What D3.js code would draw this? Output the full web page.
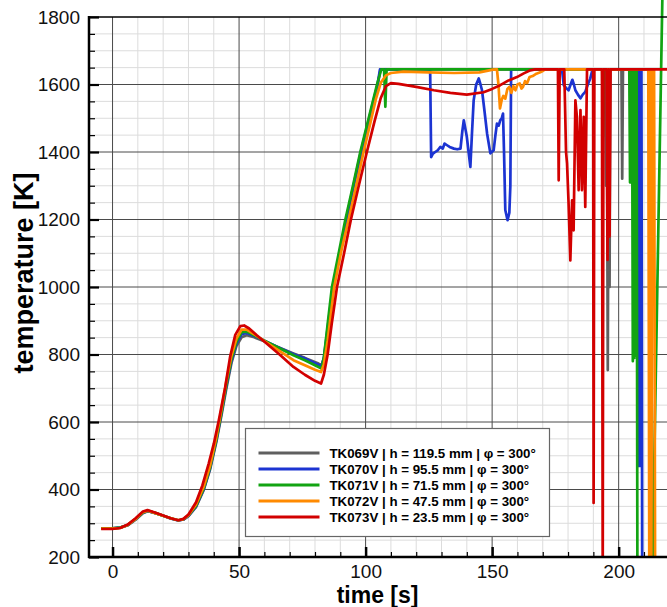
<!DOCTYPE html>
<html>
<head>
<meta charset="utf-8">
<script src="https://cdn.jsdelivr.net/npm/d3@7"></script>
<style>
body { margin: 0; background: #fff; }
svg { display: block; font-family: "Liberation Sans", Arial, sans-serif; }
</style>
</head>
<body>
<div id="chart"></div>
<script>
// readings: [time s, temperature K]
const tk069 = [[-4.5,285],[0,285],[3,287],[6,294],[9,310],[12,330],[14,336],[17,330],[20,322],[23,314],[26,308],[28,311],[30,321],[33,348],[36,398],[38.5,458],[41,540],[43,618],[45,700],[47,775],[49,826],[51,851],[53,857],[56,851],[60,839],[65,823],[71.5,803],[76,790],[81.4,773],[82.6,768],[83.6,790],[85.2,880],[87.2,1000],[90,1106],[92.5,1200],[95.5,1305],[98.4,1400],[101.5,1500],[104.8,1600],[105.9,1645],[194.6,1645],[195,1300],[195.3,1645],[195.7,754],[196.1,1645],[196.4,1000],[196.7,1645],[201.1,1645],[201.4,1321],[201.7,1645],[212.6,1645],[213,150],[222,150]];

const tk070 = [[-4.5,285],[0,285],[3,287],[6,294],[9,311],[12,331],[14,336],[17,330],[20,322],[23,314],[26,308],[28,311],[30,322],[33,350],[36,400],[38.5,462],[41,545],[43,625],[45,708],[47,782],[49,833],[51,860],[53,864],[56,855],[60,841],[65,823],[71.5,801],[76,788],[81.4,770],[82.5,765],[83.5,790],[85.1,885],[87,995],[89.8,1105],[92.3,1200],[95.2,1300],[98.1,1400],[101.4,1500],[104.7,1600],[105.7,1645],[125.5,1645],[125.9,1385],[126.6,1395],[127.5,1400],[128.5,1405],[129.5,1415],[130.5,1410],[131.2,1425],[132.2,1420],[133.2,1415],[134.9,1410],[136.2,1408],[137.5,1410],[138.2,1460],[138.8,1494],[139.4,1470],[140,1445],[140.7,1400],[141.4,1356],[142,1450],[142.7,1553],[143.7,1600],[144.7,1618],[145.4,1600],[146,1583],[147,1520],[148,1455],[149.3,1396],[150.6,1405],[151.3,1450],[151.9,1484],[152.6,1478],[153.2,1494],[153.8,1500],[154.3,1514],[154.7,1400],[155.2,1228],[156.1,1198],[156.8,1220],[157.2,1300],[157.5,1642],[157.8,1645],[177.6,1645],[178.3,1598],[179.2,1590],[180.2,1583],[181,1600],[181.7,1614],[182.3,1600],[182.9,1583],[183.9,1570],[184.9,1559],[185.8,1570],[186.8,1578],[187.8,1600],[188.8,1618],[189.5,1640],[190,1645],[207.3,1645],[207.5,470],[207.8,1645],[208.1,470],[208.4,1645],[208.7,470],[209,1645],[209.3,150],[222,150]];

const tk071 = [[-4.5,285],[0,285],[3,287],[6,295],[9,312],[12,332],[14,337],[17,330],[20,322],[23,315],[26,309],[28,312],[30,323],[33,352],[36,403],[38.5,465],[41,548],[43,628],[45,712],[47,788],[49,838],[51,866],[53,868],[56,857],[60,841],[65,822],[71.5,798],[76,783],[81.4,763],[82.6,758],[83.5,790],[85,890],[86.7,1000],[89.5,1105],[92,1200],[95,1300],[97.9,1400],[101.2,1500],[104.5,1600],[106.2,1645],[107.3,1645],[107.8,1534],[108.3,1645],[193.5,1645],[193.8,1445],[194.1,1645],[204.2,1645],[204.5,1310],[204.8,1645],[205.3,1645],[205.6,780],[205.9,1645],[206.2,790],[206.5,1645],[206.8,800],[207.1,1645],[207.4,150],[213.3,150],[217.3,1870]];

const tk072 = [[-4.5,284],[0,284],[3,286],[6,295],[9,312],[12,333],[14,337],[17,330],[20,322],[23,315],[26,309],[28,312],[30,324],[33,356],[36,408],[38.5,470],[41,555],[43,636],[45,722],[47,797],[49,848],[51,874],[53,874],[56,860],[60,840],[65,815],[71.5,783],[76,768],[80,755],[82.4,748],[83.5,770],[85,840],[87.6,1000],[90.5,1110],[93.3,1200],[96.3,1300],[99.2,1400],[102,1490],[104,1555],[106,1605],[108,1627],[110,1634],[115,1638],[125,1636],[135,1634],[145,1636],[150.3,1644],[151.9,1645],[152.5,1600],[153.1,1529],[153.8,1555],[154.4,1566],[155.2,1558],[156,1586],[156.8,1593],[157.6,1575],[158.4,1595],[159.2,1583],[160,1600],[160.9,1603],[161.6,1588],[162.2,1593],[163,1610],[163.8,1604],[164.8,1622],[166,1625],[167.5,1632],[169,1636],[170,1640],[171,1645],[211.7,1645],[212.1,150],[212.5,1645],[212.9,150],[213.3,1645],[213.7,1544],[214,1645],[214.4,150],[222,150]];

const tk073 = [[-4.5,283],[0,283],[3,286],[6,296],[9,314],[12,335],[13.8,339],[17,331],[20,323],[23,315],[26,309],[28,313],[30,326],[33,362],[35.5,412],[38,477],[40,535],[42,605],[44.5,702],[46.5,795],[48.5,858],[50.5,884],[52,886],[54,877],[57,857],[61,832],[66,800],[71.5,763],[76,740],[80,722],[82.4,714],[83.5,740],[85,800],[86.6,890],[88.7,1000],[91.5,1100],[94.2,1200],[97.3,1300],[100.5,1400],[103.5,1490],[106,1560],[108,1595],[110,1604],[113,1602],[120,1593],[127,1583],[133.5,1575],[140,1570],[146.6,1577],[150,1587],[153.2,1598],[156.5,1612],[159.8,1622],[162.5,1633],[165.1,1642],[167,1645],[176,1645],[176.3,1316],[176.7,1645],[178.5,1645],[179.2,1400],[179.6,1366],[180.2,1250],[180.9,1079],[181.6,1257],[182.2,1168],[182.9,1553],[183.5,1504],[184.2,1287],[184.9,1524],[185.5,1287],[186.2,1504],[186.8,1237],[187.5,1645],[189.9,1645],[190.1,360],[190.4,1645],[193.4,1645],[193.7,120],[194,1645],[195.2,1645],[195.6,1080],[196,1645],[196.4,1150],[196.8,1645],[222,1645]];

const seriesNames = [
    "TK069V | h = 119.5 mm | \u03c6 = 300\u00b0",
    "TK070V | h = 95.5 mm | \u03c6 = 300\u00b0",
    "TK071V | h = 71.5 mm | \u03c6 = 300\u00b0",
    "TK072V | h = 47.5 mm | \u03c6 = 300\u00b0",
    "TK073V | h = 23.5 mm | \u03c6 = 300\u00b0"
];
const seriesData = [tk069, tk070, tk071, tk072, tk073];
const xTicks = [0, 50, 100, 150, 200];
const yTicks = [200, 400, 600, 800, 1000, 1200, 1400, 1600, 1800];

const colors = ["#5f5f5f", "#1c34d2", "#12a412", "#ff8a00", "#d20000"];

const width = 667, height = 607;
const plotLeft = 89, plotRight = 667, plotTop = 17, plotBottom = 557;

const x = d3.scaleLinear().domain([-9.3, 219.1]).range([plotLeft, plotRight]);
const y = d3.scaleLinear().domain([200, 1800]).range([plotBottom, plotTop]);

const svg = d3.select("#chart").append("svg")
    .attr("width", width)
    .attr("height", height);

svg.append("defs").append("clipPath").attr("id", "plotclip")
    .append("rect")
    .attr("x", plotLeft).attr("y", 0)
    .attr("width", plotRight - plotLeft).attr("height", plotBottom);

// minor grid
const xMinor = d3.range(0, 220, 10).filter(v => v % 50 !== 0);
const yMinor = d3.range(250, 1800, 50).filter(v => v % 200 !== 0);

const grid = svg.append("g");
grid.selectAll(".vminor").data(xMinor).enter().append("line")
    .attr("x1", d => x(d)).attr("x2", d => x(d))
    .attr("y1", plotTop).attr("y2", plotBottom)
    .attr("stroke", "#dcdcdc").attr("stroke-width", 1);
grid.selectAll(".hminor").data(yMinor).enter().append("line")
    .attr("x1", plotLeft).attr("x2", plotRight)
    .attr("y1", d => y(d)).attr("y2", d => y(d))
    .attr("stroke", "#dcdcdc").attr("stroke-width", 1);
grid.selectAll(".vmajor").data(xTicks).enter().append("line")
    .attr("x1", d => x(d)).attr("x2", d => x(d))
    .attr("y1", plotTop).attr("y2", plotBottom)
    .attr("stroke", "#4a4a4a").attr("stroke-width", 1);
grid.selectAll(".hmajor").data(yTicks.slice(1, -1)).enter().append("line")
    .attr("x1", plotLeft).attr("x2", plotRight)
    .attr("y1", d => y(d)).attr("y2", d => y(d))
    .attr("stroke", "#4a4a4a").attr("stroke-width", 1);

// data lines
const line = d3.line()
    .x(d => x(d[0]))
    .y(d => y(d[1]));

svg.append("g").attr("clip-path", "url(#plotclip)")
    .selectAll("path")
    .data(seriesData)
    .enter()
    .append("path")
    .attr("d", line)
    .attr("fill", "none")
    .attr("stroke", (d, i) => colors[i])
    .attr("stroke-width", 2.7)
    .attr("stroke-linejoin", "round");

// axes
const yAxis = d3.axisLeft(y).tickValues(yTicks).tickFormat(d3.format("d"))
    .tickSizeInner(-10).tickSizeOuter(0).tickPadding(9);
const yMinorAxis = d3.axisLeft(y).tickValues(yMinor).tickSizeInner(-6).tickSizeOuter(0).tickFormat("");
const xAxis = d3.axisBottom(x).tickValues(xTicks).tickFormat(d3.format("d"))
    .tickSizeInner(-10).tickSizeOuter(0).tickPadding(7.5);
const xMinorAxis = d3.axisBottom(x).tickValues(xMinor).tickSizeInner(-5).tickSizeOuter(0).tickFormat("");

function styleAxis(g, w) {
    g.select(".domain").remove();
    g.selectAll(".tick line").attr("stroke", "#000").attr("stroke-width", w);
    g.selectAll("text").attr("fill", "#111").style("font-size", "19px")
        .style("font-family", "'Liberation Sans', Arial, sans-serif");
}

svg.append("g").attr("transform", `translate(${plotLeft},0)`).call(yMinorAxis).call(g => styleAxis(g, 1.2));
svg.append("g").attr("transform", `translate(${plotLeft},0)`).call(yAxis).call(g => styleAxis(g, 2.2));
svg.append("g").attr("transform", `translate(0,${plotBottom})`).call(xMinorAxis).call(g => styleAxis(g, 1.2));
svg.append("g").attr("transform", `translate(0,${plotBottom})`).call(xAxis).call(g => styleAxis(g, 2.5));

// frame lines
svg.append("line").attr("x1", plotLeft).attr("x2", plotRight).attr("y1", plotTop).attr("y2", plotTop)
    .attr("stroke", "#000").attr("stroke-width", 1.5);
svg.append("line").attr("x1", plotLeft).attr("x2", plotLeft).attr("y1", plotTop - 1).attr("y2", plotBottom + 1)
    .attr("stroke", "#000").attr("stroke-width", 2.5);
svg.append("line").attr("x1", plotLeft - 1).attr("x2", plotRight).attr("y1", plotBottom).attr("y2", plotBottom)
    .attr("stroke", "#000").attr("stroke-width", 2.5);

// titles
svg.append("text")
    .attr("x", x(100) + 12)
    .attr("y", 603)
    .attr("text-anchor", "middle")
    .style("font-size", "23px")
    .style("font-weight", "bold")
    .text("time [s]");

svg.append("text")
    .attr("transform", "translate(33,273) rotate(-90)")
    .attr("text-anchor", "middle")
    .style("font-size", "27px")
    .style("font-weight", "bold")
    .text("temperature [K]");

// legend
const legend = svg.append("g").attr("transform", "translate(245.5,428.5)");
legend.append("rect")
    .attr("width", 304).attr("height", 108)
    .attr("fill", "#fff").attr("stroke", "#666").attr("stroke-width", 1.2);

const rows = legend.selectAll(".row").data(seriesNames).enter().append("g")
    .attr("transform", (d, i) => `translate(0,${24.5 + i * 16})`);
rows.append("line")
    .attr("x1", 13).attr("x2", 74)
    .attr("stroke", (d, i) => colors[i]).attr("stroke-width", 3);
rows.append("text")
    .attr("x", 84).attr("dy", "0.35em")
    .style("font-size", "13.3px").style("font-weight", "bold")
    .text(d => d);
</script>
</body>
</html>
